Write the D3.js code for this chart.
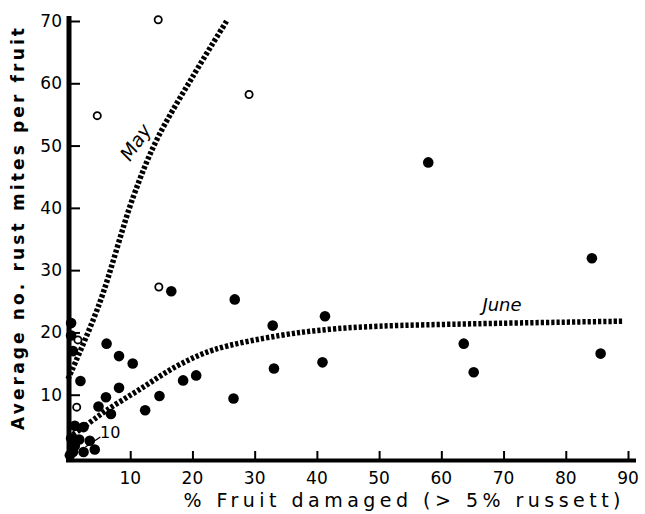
<!DOCTYPE html>
<html><head><meta charset="utf-8">
<script src="https://cdn.jsdelivr.net/npm/d3@7"></script>
<style>body{margin:0;background:#fff}</style>
</head><body>
<svg id="c" width="645" height="514"></svg>
<script>
const xTicks = [10,20,30,40,50,60,70,80,90];
const yTicks = [10,20,30,40,50,60,70];
const juneX = [0.5,0.5,0.8,2,6.2,8.2,10.4,8.2,6.1,4.9,6.9,12.4,14.7,18.5,20.6,16.6,26.8,32.9,41.3,33.1,40.9,26.6,57.9,84.2,63.6,65.2,85.6,1.1,2.5,4.3,2.5,0.8,1.1,0.5,1.8,0.3,3.5];
const juneY = [21.5,19.5,17,12.2,18.2,16.2,15,11.1,9.6,8.1,6.9,7.5,9.8,12.3,13.1,26.6,25.3,21.1,22.6,14.2,15.2,9.4,47.3,31.9,18.2,13.6,16.6,5,4.8,1.2,0.8,0.8,1.8,3,2.8,0.3,2.6];
const mayX = [14.5,4.7,29.1,14.6,1.4,1.6];
const mayY = [70.2,54.8,58.2,27.3,8,18.8];
const mayCurveX = [0,5,10.5,14.3,20,25.5];
const mayCurveY = [12.5,24.5,41.8,51,61,70];
const juneCurveX = [0.8,2.5,6.2,11.6,17.5,23.4,34,42,50,66,89.3];
const juneCurveY = [3.6,4.8,7.5,10.9,14.6,17.2,19.5,20.5,21,21.4,21.8];

const svg = d3.select("#c");
const x = d3.scaleLinear().domain([0,90]).range([68,628]);
const y = d3.scaleLinear().domain([0,70]).range([457,21]);
const font = "'DejaVu Sans', sans-serif";

// axes lines
svg.append("line").attr("x1",69).attr("x2",69).attr("y1",16).attr("y2",462).attr("stroke","#000").attr("stroke-width",5);
svg.append("line").attr("x1",66).attr("x2",636).attr("y1",460.5).attr("y2",460.5).attr("stroke","#000").attr("stroke-width",4);

// y ticks (inward)
const yAxis = d3.axisRight(y).tickValues(yTicks).tickSize(11).tickFormat("");
svg.append("g").attr("transform","translate(69,0)").call(yAxis)
  .call(g=>{g.select(".domain").remove();g.selectAll("line").attr("stroke","#000").attr("stroke-width",2);});
svg.append("g").selectAll("text").data(yTicks).join("text")
  .attr("x",62).attr("y",d=>y(d)+6).attr("text-anchor","end")
  .attr("font-family",font).attr("font-size",17).text(d=>d);

// x ticks (inward)
const xAxis = d3.axisTop(x).tickValues(xTicks).tickSize(9).tickFormat("");
svg.append("g").attr("transform","translate(0,460)").call(xAxis)
  .call(g=>{g.select(".domain").remove();g.selectAll("line").attr("stroke","#000").attr("stroke-width",2);});
svg.append("g").selectAll("text").data(xTicks).join("text")
  .attr("x",d=>x(d)).attr("y",484).attr("text-anchor","middle")
  .attr("font-family",font).attr("font-size",17).text(d=>d);

// titles
svg.append("text").attr("x",402).attr("y",507).attr("text-anchor","middle")
  .attr("font-family",font).attr("font-size",19).attr("textLength",437).attr("lengthAdjust","spacing")
  .text("% Fruit damaged (> 5% russett)");
svg.append("text").attr("transform","translate(24,229) rotate(-90)").attr("text-anchor","middle")
  .attr("font-family",font).attr("font-size",17).attr("font-weight","bold").attr("textLength",402).attr("lengthAdjust","spacing")
  .text("Average no. rust mites per fruit");

// curves
const lineGen = d3.line().x(d=>x(d[0])).y(d=>y(d[1])).curve(d3.curveCatmullRom);
svg.append("path").datum(mayCurveX.map((v,i)=>[v,mayCurveY[i]])).attr("d",lineGen)
  .attr("fill","none").attr("stroke","#000").attr("stroke-width",5.5).attr("stroke-dasharray","3.2,2");
svg.append("path").datum(juneCurveX.map((v,i)=>[v,juneCurveY[i]])).attr("d",lineGen)
  .attr("fill","none").attr("stroke","#000").attr("stroke-width",5.5).attr("stroke-dasharray","3.2,2");

// points
svg.append("g").selectAll("circle").data(juneX.map((v,i)=>[v,juneY[i]])).join("circle")
  .attr("cx",d=>x(d[0])).attr("cy",d=>y(d[1])).attr("r",5.3).attr("fill","#000");
svg.append("g").selectAll("circle").data(mayX.map((v,i)=>[v,mayY[i]])).join("circle")
  .attr("cx",d=>x(d[0])).attr("cy",d=>y(d[1])).attr("r",3.6).attr("fill","#fff").attr("stroke","#000").attr("stroke-width",1.8);

// labels
svg.append("text").attr("transform","translate(141,146) rotate(-56)").attr("text-anchor","middle")
  .attr("font-family",font).attr("font-size",19).attr("font-style","italic").text("May");
svg.append("text").attr("x",502).attr("y",311).attr("text-anchor","middle")
  .attr("font-family",font).attr("font-size",18).attr("font-style","italic").text("June");
svg.append("text").attr("x",100).attr("y",438).attr("font-family",font).attr("font-size",16).text("10");
svg.append("line").attr("x1",x(5.2)).attr("y1",y(3.2)).attr("x2",x(2.8)).attr("y2",y(1.6)).attr("stroke","#000").attr("stroke-width",1.3);
</script>
</body></html>
